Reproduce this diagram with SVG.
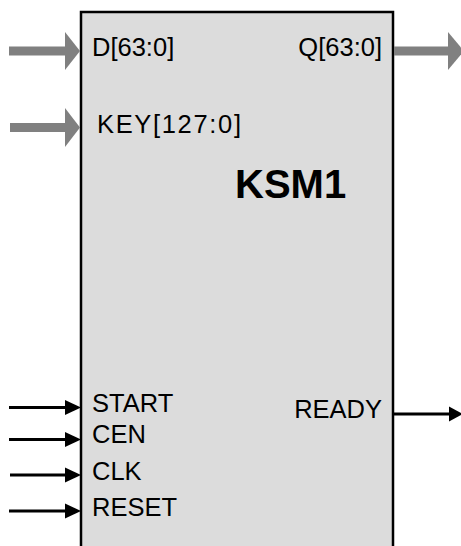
<svg xmlns="http://www.w3.org/2000/svg" width="461" height="546" viewBox="0 0 461 546">
<style>
.lbl{font-family:"Liberation Sans",Arial,sans-serif;font-size:25.5px;fill:#000}
.title{font-family:"Liberation Sans",Arial,sans-serif;font-size:40px;font-weight:bold;fill:#000}
.bus{fill:#808080;stroke:none}
.sig{stroke:#000;stroke-width:3;fill:none}
.head{fill:#000}
</style>
<rect width="461" height="546" fill="#fff"/>
<g id="KSM1">
<rect x="81" y="12" width="312" height="560" fill="#dcdcdc" stroke="#000" stroke-width="2.5"/>
<text class="title" x="235" y="198">KSM1</text>
<text class="lbl" x="92" y="56">D[63:0]</text>
<text class="lbl" x="97" y="133" textLength="144" lengthAdjust="spacing">KEY[127:0]</text>
<text class="lbl" x="382" y="56" text-anchor="end">Q[63:0]</text>
<text class="lbl" x="92" y="412">START</text>
<text class="lbl" x="92" y="443">CEN</text>
<text class="lbl" x="92" y="480">CLK</text>
<text class="lbl" x="92" y="516">RESET</text>
<text class="lbl" x="382" y="418" text-anchor="end">READY</text>
</g>
<g id="connectors">
<g id="D">
<rect class="bus" x="9" y="46.5" width="57" height="9"/>
<polygon class="bus" points="65,32 80,51 65,70"/>
</g>
<g id="KEY">
<rect class="bus" x="10" y="123" width="56" height="9"/>
<polygon class="bus" points="65,108 80,127.5 65,147"/>
</g>
<g id="Q">
<rect class="bus" x="394" y="46.5" width="55" height="9"/>
<polygon class="bus" points="448,32 464,51 448,70"/>
</g>
<g id="START"><line class="sig" x1="9" y1="407.5" x2="66" y2="407.5"/><polygon class="head" points="65,400 81,407.5 65,415"/></g>
<g id="CEN"><line class="sig" x1="9" y1="439.5" x2="66" y2="439.5"/><polygon class="head" points="65,432 81,439.5 65,447"/></g>
<g id="CLK"><line class="sig" x1="10" y1="475" x2="66" y2="475"/><polygon class="head" points="65,467.5 81,475 65,482.5"/></g>
<g id="RESET"><line class="sig" x1="9" y1="511" x2="66" y2="511"/><polygon class="head" points="65,503.5 81,511 65,518.5"/></g>
<g id="READY"><line class="sig" x1="394" y1="414" x2="450" y2="414"/><polygon class="head" points="449,406.5 463,414 449,421.5"/></g>
</g>
</svg>
